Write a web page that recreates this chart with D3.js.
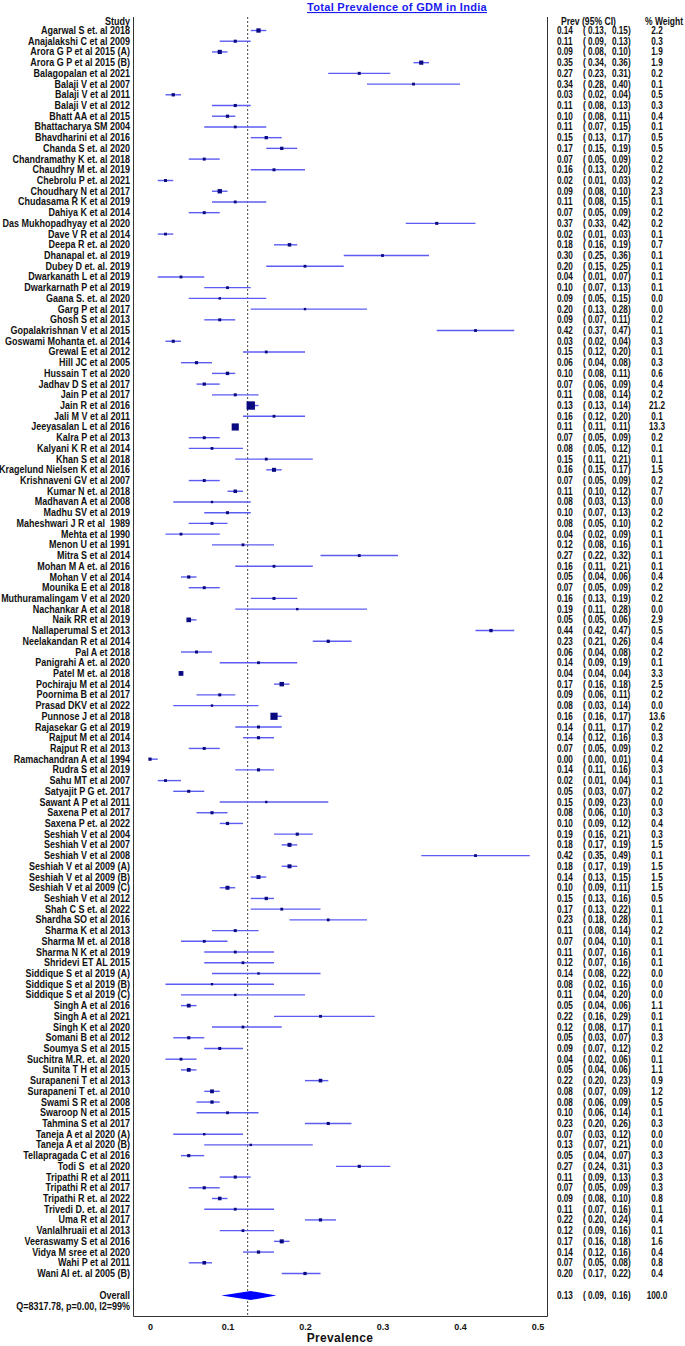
<!DOCTYPE html>
<html>
<head>
<meta charset="utf-8">
<script src="https://cdn.jsdelivr.net/npm/d3@7"></script>
<style>
  body { margin: 0; background: #fff; }
  svg { display: block; }
  .lbl { font-family: "Liberation Sans", Arial, sans-serif; font-weight: bold; font-size: 10px; fill: #111; }
</style>
</head>
<body>
<svg id="chart" width="685" height="1346"></svg>
<script>
// study labels, top to bottom
var studies = ["Agarwal S et. al 2018","Anajalakshi C et al 2009","Arora G P et al 2015 (A)","Arora G P et al 2015 (B)",
"Balagopalan et al 2021","Balaji V et al 2007","Balaji V et al 2011","Balaji V et al 2012","Bhatt AA et al 2015",
"Bhattacharya SM 2004","Bhavdharini et al 2016","Chanda S et. al 2020","Chandramathy K et. al 2018","Chaudhry M et. al 2019",
"Chebrolu P et. al 2021","Choudhary N et al 2017","Chudasama R K et al 2019","Dahiya K et al 2014","Das Mukhopadhyay et al 2020",
"Dave V R et al 2014","Deepa R et. al 2020","Dhanapal et. al 2019","Dubey D et. al. 2019","Dwarkanath L et al 2019",
"Dwarkarnath P et al 2019","Gaana S. et. al 2020","Garg P et al 2017","Ghosh S et al 2013","Gopalakrishnan V et al 2015",
"Goswami Mohanta et. al 2014","Grewal E et al 2012","Hill JC et al 2005","Hussain T et al 2020","Jadhav D S et al 2017",
"Jain P et al 2017","Jain R et al 2016","Jali M V et al 2011","Jeeyasalan L et al 2016","Kalra P et al 2013",
"Kalyani K R et al 2014","Khan S et al 2018","Kragelund Nielsen K et al 2016","Krishnaveni GV et al 2007","Kumar N et. al 2018",
"Madhavan A et al 2008","Madhu SV et al 2019","Maheshwari J R et al  1989","Mehta et al 1990","Menon U et al 1991",
"Mitra S et al 2014","Mohan M A et. al 2016","Mohan V et al 2014","Mounika E et al 2018","Muthuramalingam V et al 2020",
"Nachankar A et al 2018","Naik RR et al 2019","Nallaperumal S et 2013","Neelakandan R et al 2014","Pal A et 2018",
"Panigrahi A et. al 2020","Patel M et. al 2018","Pochiraju M et al 2014","Poornima B et al 2017","Prasad DKV et al 2022",
"Punnose J et al 2018","Rajasekar G et al 2019","Rajput M et al 2014","Rajput R et al 2013","Ramachandran A et al 1994",
"Rudra S et al 2019","Sahu MT et al 2007","Satyajit P G et. 2017","Sawant A P et al 2011","Saxena P et al 2017",
"Saxena P et. al 2022","Seshiah V et al 2004","Seshiah V et al 2007","Seshiah V et al 2008","Seshiah V et al 2009 (A)",
"Seshiah V et al 2009 (B)","Seshiah V et al 2009 (C)","Seshiah V et al 2012","Shah C S et. al 2022","Shardha SO et al 2016",
"Sharma K et al 2013","Sharma M et. al 2018","Sharma N K et al 2019","Shridevi ET AL 2015","Siddique S et al 2019 (A)",
"Siddique S et al 2019 (B)","Siddique S et al 2019 (C)","Singh A et al 2016","Singh A et al 2021","Singh K et al 2020",
"Somani B et al 2012","Soumya S et al 2015","Suchitra M.R. et. al 2020","Sunita T H et al 2015","Surapaneni T et al 2013",
"Surapaneni T et. al 2010","Swami S R et al 2008","Swaroop N et al 2015","Tahmina S et al 2017","Taneja A et al 2020 (A)",
"Taneja A et al 2020 (B)","Tellapragada C et al 2016","Todi S  et al 2020","Tripathi R et al 2011","Tripathi R et al 2017",
"Tripathi R et. al 2022","Trivedi D. et. al 2017","Uma R et al 2017","Vanlalhruaii et al 2013","Veeraswamy S et al 2016",
"Vidya M sree et al 2020","Wahi P et al 2011","Wani AI et. al 2005 (B)"];

var prev = [0.14,0.11,0.09,0.35,0.27,0.34,0.03,0.11,0.10,0.11,0.15,0.17,0.07,0.16,0.02,0.09,0.11,0.07,0.37,0.02,
0.18,0.30,0.20,0.04,0.10,0.09,0.20,0.09,0.42,0.03,0.15,0.06,0.10,0.07,0.11,0.13,0.16,0.11,0.07,0.08,
0.15,0.16,0.07,0.11,0.08,0.10,0.08,0.04,0.12,0.27,0.16,0.05,0.07,0.16,0.19,0.05,0.44,0.23,0.06,0.14,
0.04,0.17,0.09,0.08,0.16,0.14,0.14,0.07,0.00,0.14,0.02,0.05,0.15,0.08,0.10,0.19,0.18,0.42,0.18,0.14,
0.10,0.15,0.17,0.23,0.11,0.07,0.11,0.12,0.14,0.08,0.11,0.05,0.22,0.12,0.05,0.09,0.04,0.05,0.22,0.08,
0.08,0.10,0.23,0.07,0.13,0.05,0.27,0.11,0.07,0.09,0.11,0.22,0.12,0.17,0.14,0.07,0.20];

var lower = [0.13,0.09,0.08,0.34,0.23,0.28,0.02,0.08,0.08,0.07,0.13,0.15,0.05,0.13,0.01,0.08,0.08,0.05,0.33,0.01,
0.16,0.25,0.15,0.01,0.07,0.05,0.13,0.07,0.37,0.02,0.12,0.04,0.08,0.06,0.08,0.13,0.12,0.11,0.05,0.05,
0.11,0.15,0.05,0.10,0.03,0.07,0.05,0.02,0.08,0.22,0.11,0.04,0.05,0.13,0.11,0.05,0.42,0.21,0.04,0.09,
0.04,0.16,0.06,0.03,0.16,0.11,0.12,0.05,0.00,0.11,0.01,0.03,0.09,0.06,0.09,0.16,0.17,0.35,0.17,0.13,
0.09,0.13,0.13,0.18,0.08,0.04,0.07,0.07,0.08,0.02,0.04,0.04,0.16,0.08,0.03,0.07,0.02,0.04,0.20,0.07,
0.06,0.06,0.20,0.03,0.07,0.04,0.24,0.09,0.05,0.08,0.07,0.20,0.09,0.16,0.12,0.05,0.17];

var upper = [0.15,0.13,0.10,0.36,0.31,0.40,0.04,0.13,0.11,0.15,0.17,0.19,0.09,0.20,0.03,0.10,0.15,0.09,0.42,0.03,
0.19,0.36,0.25,0.07,0.13,0.15,0.28,0.11,0.47,0.04,0.20,0.08,0.11,0.09,0.14,0.14,0.20,0.11,0.09,0.12,
0.21,0.17,0.09,0.12,0.13,0.13,0.10,0.09,0.16,0.32,0.21,0.06,0.09,0.19,0.28,0.06,0.47,0.26,0.08,0.19,
0.04,0.18,0.11,0.14,0.17,0.17,0.16,0.09,0.01,0.16,0.04,0.07,0.23,0.10,0.12,0.21,0.19,0.49,0.19,0.15,
0.11,0.16,0.22,0.28,0.14,0.10,0.16,0.16,0.22,0.16,0.20,0.06,0.29,0.17,0.07,0.12,0.06,0.06,0.23,0.09,
0.09,0.14,0.26,0.12,0.21,0.07,0.31,0.13,0.09,0.10,0.16,0.24,0.16,0.18,0.16,0.08,0.22];

var weight = [2.2,0.3,1.9,1.9,0.2,0.1,0.5,0.3,0.4,0.1,0.5,0.5,0.2,0.2,0.2,2.3,0.1,0.2,0.2,0.1,
0.7,0.1,0.1,0.1,0.1,0.0,0.0,0.2,0.1,0.3,0.1,0.3,0.6,0.4,0.2,21.2,0.1,13.3,0.2,0.1,
0.1,1.5,0.2,0.7,0.0,0.2,0.2,0.1,0.1,0.1,0.1,0.4,0.2,0.2,0.0,2.9,0.5,0.4,0.2,0.1,
3.3,2.5,0.2,0.0,13.6,0.2,0.3,0.2,0.4,0.3,0.1,0.2,0.0,0.3,0.4,0.3,1.5,0.1,1.5,1.5,
1.5,0.5,0.1,0.1,0.2,0.1,0.1,0.1,0.0,0.0,0.0,1.1,0.1,0.1,0.3,0.2,0.1,1.1,0.9,1.2,
0.5,0.1,0.3,0.0,0.0,0.3,0.3,0.3,0.3,0.8,0.1,0.4,0.1,1.6,0.4,0.8,0.4];

// pooled estimate
var overall = {est: 0.13, lo: 0.09, hi: 0.16, line: 0.126, dLo: 0.092, dHi: 0.163, weight: 100.0};
var hetText = "Q=8317.78, p=0.00, I2=99%";
var xTicks = [0, 0.1, 0.2, 0.3, 0.4, 0.5];

var rows = studies.map(function(s, i) {
  return {name: s, est: prev[i], lo: lower[i], hi: upper[i], w: weight[i], i: i};
});

var svg = d3.select("#chart");
var f2 = d3.format(".2f"), f1 = d3.format(".1f");

var x = d3.scaleLinear().domain([0, 0.5]).range([150, 537.5]);
var y = d3.scalePoint().domain(d3.range(rows.length)).range([30.5, 1273.5]);
var yOverall = 1295.5, yAxis = 1316.5, plotL = 133.5, plotR = 547.5, plotTop = 17;

// condensed text: the reference uses a narrow face, so squeeze horizontally
function ctext(sel, px, py, str, sx, anchor) {
  return sel.append("text")
    .attr("transform", "translate(" + px + "," + py + ") scale(" + sx + ",1)")
    .attr("dy", "0.35em")
    .attr("text-anchor", anchor || "start")
    .attr("xml:space", "preserve")
    .text(str);
}

// title
svg.append("text")
  .attr("x", 397).attr("y", 11)
  .attr("text-anchor", "middle")
  .style("font-family", "Liberation Sans, Arial, sans-serif")
  .style("font-weight", "bold").style("font-size", "11px")
  .style("fill", "#1a1aee").style("text-decoration", "underline")
  .style("letter-spacing", "0.3px")
  .text("Total Prevalence of GDM in India");

// frame
svg.append("line").attr("x1", plotL).attr("x2", plotL).attr("y1", plotTop).attr("y2", yAxis)
  .attr("stroke", "#333").attr("stroke-width", 1);
svg.append("line").attr("x1", plotR).attr("x2", plotR).attr("y1", plotTop).attr("y2", yAxis)
  .attr("stroke", "#333").attr("stroke-width", 1);

// x axis
var ax = svg.append("g").attr("transform", "translate(0," + yAxis + ")")
  .call(d3.axisBottom(x).tickValues(xTicks).tickSize(0).tickPadding(7).tickFormat(d3.format("")));
ax.select(".domain").remove();
ax.append("line").attr("x1", plotL).attr("x2", plotR).attr("stroke", "#333");
ax.selectAll("text")
  .style("font-family", "Liberation Sans, Arial, sans-serif")
  .style("font-weight", "bold").style("font-size", "9px").style("fill", "#111");

svg.append("text")
  .attr("x", 340).attr("y", 1342)
  .attr("text-anchor", "middle")
  .style("font-family", "Liberation Sans, Arial, sans-serif")
  .style("font-weight", "bold").style("font-size", "12px").style("fill", "#111")
  .style("letter-spacing", "0.3px")
  .text("Prevalence");

// reference line at pooled estimate
svg.append("line")
  .attr("x1", x(overall.line)).attr("x2", x(overall.line))
  .attr("y1", plotTop).attr("y2", yAxis)
  .attr("stroke", "#444").attr("stroke-width", 1).attr("stroke-dasharray", "2,2");

// CIs
svg.append("g").selectAll("line").data(rows).enter().append("line")
  .attr("x1", d => x(d.lo)).attr("x2", d => x(d.hi))
  .attr("y1", d => y(d.i)).attr("y2", d => y(d.i))
  .attr("stroke", "#5c5cf2").attr("stroke-width", 1.4);

// markers sized by weight
svg.append("g").selectAll("rect").data(rows).enter().append("rect")
  .each(function(d) { d.s = 2.4 + 1.3 * Math.sqrt(d.w); })
  .attr("x", d => x(d.est) - d.s / 2).attr("y", d => y(d.i) - d.s / 2)
  .attr("width", d => d.s).attr("height", d => d.s)
  .attr("fill", "#0a0a80");

// overall diamond
svg.append("path")
  .attr("d", "M" + x(overall.dLo) + "," + yOverall + "L" + x(overall.est) + "," + (yOverall - 4.5) +
             "L" + x(overall.dHi) + "," + yOverall + "L" + x(overall.est) + "," + (yOverall + 4.5) + "Z")
  .attr("fill", "#0000ff");

// left labels
var lab = svg.append("g").attr("class", "lbl");
var SX = 0.9;
ctext(lab, 130, 21, "Study", SX, "end");
rows.forEach(function(d) { ctext(lab, 130, y(d.i), d.name, SX, "end"); });
ctext(lab, 130, yOverall, "Overall", SX, "end");
ctext(lab, 130, yOverall + 11, hetText, SX, "end");

// right columns
var rc = svg.append("g").attr("class", "lbl");
ctext(rc, 561, 21, "Prev (95% CI)", 0.86);
ctext(rc, 645, 21, "% Weight", 0.85);

var allRows = rows.map(d => ({est: d.est, lo: d.lo, hi: d.hi, w: d.w, yy: y(d.i)}))
  .concat([{est: overall.est, lo: overall.lo, hi: overall.hi, w: overall.weight, yy: yOverall}]);
var RX = 0.82;
allRows.forEach(function(d) {
  ctext(rc, 557, d.yy, f2(d.est), RX);
  ctext(rc, 583, d.yy, "(", RX);
  ctext(rc, 588, d.yy, f2(d.lo) + ",", RX);
  ctext(rc, 612, d.yy, f2(d.hi) + ")", RX);
  ctext(rc, 657, d.yy, f1(d.w), RX, "middle");
});
</script>
</body>
</html>
